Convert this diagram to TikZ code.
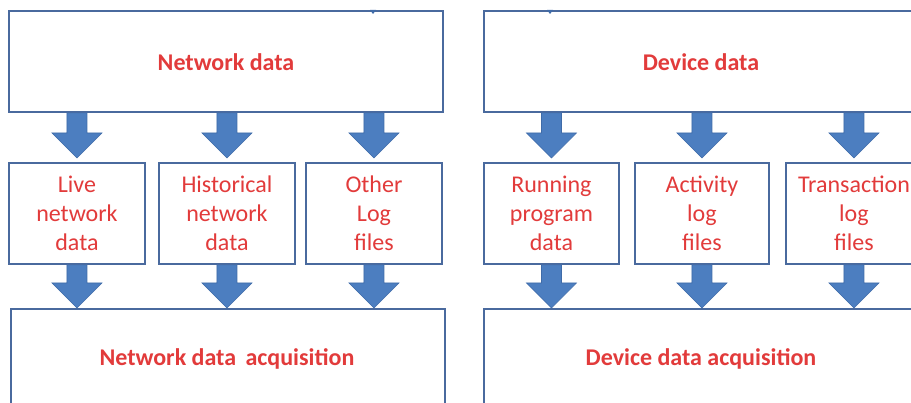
\documentclass[tikz,border=0pt]{standalone}
\usepackage{fontspec}
\setmainfont{Carlito}
\usetikzlibrary{calc}

\definecolor{boxedge}{HTML}{4A6A9E}
\definecolor{arrowfill}{HTML}{4C7EC0}
\definecolor{arrowedge}{HTML}{3F6BA8}
\definecolor{labelred}{HTML}{E23B3B}

\tikzset{
  main box/.style={draw=boxedge,line width=1.9pt,fill=white,inner sep=0pt,anchor=north west},
  big box/.style={main box,minimum width=434pt,minimum height=101pt},
  mid box/.style={main box,minimum width=136pt,minimum height=101pt,
    font=\fontsize{24}{29}\selectfont,text=labelred,align=center},
  big label/.style={font=\fontsize{24}{29}\selectfont\bfseries,text=labelred},
  block arrow/.style={fill=arrowfill,draw=arrowedge,line width=0.6pt,
    to path={let \p1=(\tikztostart), \p2=(\tikztotarget) in
      (\x1-10pt,\y1) -- (\x1+10pt,\y1) -- (\x1+10pt,\y2+25pt) -- (\x1+25pt,\y2+25pt)
      -- (\x2,\y2) -- (\x1-25pt,\y2+25pt) -- (\x1-10pt,\y2+25pt) -- cycle}}
}

\begin{document}
\begin{tikzpicture}[x=1pt,y=-1pt]
  \useasboundingbox (0,0) rectangle (911,403);
  \clip (0,0) rectangle (911,403);

  % network side
  \node[big box] (net) at (8,10) {};
  \node[big label] at (226,62) {Network data};
  \node[mid box] (live) at (8,162) {Live\\network\\data};
  \node[mid box] (hist) at (158,162) {Historical\\network\\data};
  \node[mid box] (other) at (305,162) {Other\\Log\\files};
  \node[big box,minimum height=120pt] (netacq) at (10,308) {};
  \node[big label] at (227,359) {Network data\, acquisition};

  % device side
  \node[big box] (dev) at (483,10) {};
  \node[big label] at (701,62) {Device data};
  \node[mid box,minimum width=135pt] (run) at (483,162) {Running\\program\\data};
  \node[mid box,minimum width=134pt] (act) at (634,162) {Activity\\log\\files};
  \node[mid box] (trans) at (785,162) {Transaction\\log\\files};
  \node[big box,minimum height=120pt] (devacq) at (483,308) {};
  \node[big label] at (701,359) {Device data acquisition};

  % arrows
  \foreach \src/\dst/\acq in {net/live/netacq,net/hist/netacq,net/other/netacq,
                              dev/run/devacq,dev/act/devacq,dev/trans/devacq}{
    \path[block arrow] (\src.south -| \dst) to ($(\dst.north)+(0,-4)$);
    \path[block arrow] (\dst.south) to (\dst.south |- \acq.north);
  }

  % tips from above
  \fill[arrowedge] (370,10) -- (376,10) -- (373,14) -- cycle;
  \fill[arrowedge] (547,10) -- (553,10) -- (550,14) -- cycle;
\end{tikzpicture}
\end{document}
